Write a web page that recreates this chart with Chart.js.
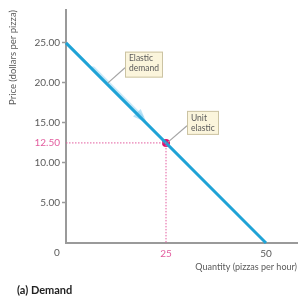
<!DOCTYPE html>
<html><head><meta charset="utf-8">
<script src="https://cdn.jsdelivr.net/npm/chart.js@4.4.0/dist/chart.umd.min.js"></script>
<style>html,body{margin:0;padding:0;background:#fff;}#wrap{width:301px;height:297px;}</style>
</head><body><div id="wrap"><canvas id="c" width="301" height="297"></canvas></div>
<script>
// Data
const demandQty = [0, 50];
const demandPrice = [25, 0];
const unitQty = [25];
const unitPrice = [12.5];
const yTickValues = [5, 10, 12.5, 15, 20, 25];
const xTickValues = [25, 50];
const guideQty = [0, 25, 25];
const guidePrice = [12.5, 12.5, 0];
const arrowQty = [6, 18];          // faint movement arrow along the curve
const elasticLabel = ['Elastic', 'demand'];
const elasticAnchor = [14.75, 23.9];   // box top-left (qty, price)
const elasticTarget = [10.5, 20];      // point on curve for leader
const unitLabel = ['Unit', 'elastic'];
const unitAnchor = [30.25, 16.5];
const unitTarget = [25.5, 12.6];

const BLUE = '#1fa3d6', PINK = '#e35d9f', MAG = '#e0106e', GREY = '#9a9a9a', TXT = '#5a5a5a';
const FONT = 'Lato, "Noto Sans", sans-serif';

function toPts(xs, ys){ return xs.map((x,i)=>({x:x, y:ys[i]})); }

const annot = {
  id: 'annot',
  beforeDatasetsDraw(chart){
    const {ctx, scales:{x, y}} = chart;
    const priceAt = q => 25 - q/2;
    const x0 = x.getPixelForValue(arrowQty[0]) + 3, y0 = y.getPixelForValue(priceAt(arrowQty[0])) + 2;
    const x1 = x.getPixelForValue(arrowQty[1]) + 3, y1 = y.getPixelForValue(priceAt(arrowQty[1])) + 2;
    ctx.save();
    ctx.strokeStyle = 'rgba(120,200,240,0.4)';
    ctx.lineWidth = 5; ctx.lineCap = 'round';
    ctx.beginPath(); ctx.moveTo(x0, y0); ctx.lineTo(x1, y1); ctx.stroke();
    const ang = Math.atan2(y1-y0, x1-x0);
    ctx.fillStyle = 'rgba(120,200,240,0.5)';
    ctx.beginPath();
    ctx.moveTo(x1 + 8*Math.cos(ang), y1 + 8*Math.sin(ang));
    ctx.lineTo(x1 + 8*Math.cos(ang+2.4), y1 + 8*Math.sin(ang+2.4));
    ctx.lineTo(x1 + 8*Math.cos(ang-2.4), y1 + 8*Math.sin(ang-2.4));
    ctx.closePath(); ctx.fill();
    ctx.restore();
  },
  afterDatasetsDraw(chart){
    const {ctx, scales:{x, y}} = chart;
    function box(lines, anchor, target, w, h){
      const bx = x.getPixelForValue(anchor[0]), by = y.getPixelForValue(anchor[1]);
      const tx = x.getPixelForValue(target[0]), ty = y.getPixelForValue(target[1]);
      ctx.save();
      ctx.strokeStyle = '#a5a5a5'; ctx.lineWidth = 1.2;
      ctx.beginPath(); ctx.moveTo(bx, by + h*0.62); ctx.lineTo(tx, ty); ctx.stroke();
      ctx.fillStyle = '#fbf5dc'; ctx.strokeStyle = '#cbc3a3'; ctx.lineWidth = 1;
      ctx.fillRect(bx, by, w, h); ctx.strokeRect(bx+0.5, by+0.5, w-1, h-1);
      ctx.fillStyle = TXT; ctx.font = '8.5px ' + FONT; ctx.textBaseline = 'middle'; ctx.textAlign = 'left';
      lines.forEach((t,i)=> ctx.fillText(t, bx + 4, by + 7 + i*10));
      ctx.restore();
    }
    box(elasticLabel, elasticAnchor, elasticTarget, 38, 26);
    box(unitLabel, unitAnchor, unitTarget, 32, 24);
    ctx.save();
    ctx.fillStyle = TXT; ctx.font = '10px ' + FONT; ctx.textAlign = 'center'; ctx.textBaseline = 'middle';
    ctx.fillText('0', x.getPixelForValue(0) - 9, y.getPixelForValue(0) + 10);
    ctx.fillStyle = '#222'; ctx.font = 'bold 11px ' + FONT; ctx.textAlign = 'left';
    ctx.fillText('(a) Demand', 17, 290);
    ctx.restore();
  }
};

new Chart(document.getElementById('c'), {
  type: 'scatter',
  data: {
    datasets: [
      { data: toPts(guideQty, guidePrice), showLine: true, borderColor: PINK, borderWidth: 1,
        borderDash: [1.5, 1.5], pointRadius: 0, fill: false },
      { data: toPts(demandQty, demandPrice), showLine: true, borderColor: BLUE, borderWidth: 3,
        pointRadius: 0, fill: false },
      { data: toPts(unitQty, unitPrice), pointRadius: 4, pointBackgroundColor: MAG,
        pointBorderColor: MAG, pointBorderWidth: 0, borderWidth: 0 }
    ]
  },
  options: {
    responsive: false, animation: false, clip: false,
    layout: { padding: { top: 10, right: 0, left: 0, bottom: 0 } },
    plugins: { legend: { display: false }, tooltip: { enabled: false } },
    scales: {
      x: {
        type: 'linear', min: 0, max: 57.75,
        afterBuildTicks: s => { s.ticks = xTickValues.map(v => ({value: v})); },
        afterFit: s => { s.height = 54; },
        border: { color: GREY, width: 2 },
        grid: { display: true, drawOnChartArea: false, drawTicks: false },
        ticks: { padding: 5, font: { family: FONT, size: 10 },
          color: c => c.tick && c.tick.value === 25 ? PINK : TXT,
          callback: v => String(v) },
        title: { display: true, text: 'Quantity (pizzas per hour)', align: 'end', color: TXT,
          font: { family: FONT, size: 9 }, padding: { top: 0, bottom: 25 } }
      },
      y: {
        type: 'linear', min: 0, max: 29.1,
        afterBuildTicks: s => { s.ticks = yTickValues.map(v => ({value: v})); },
        afterFit: s => { s.width = 66; },
        border: { color: GREY, width: 2 },
        grid: { display: true, drawOnChartArea: false, drawTicks: true, tickLength: 4, tickWidth: 1.5,
          tickColor: c => c.tick && c.tick.value === 12.5 ? 'rgba(0,0,0,0)' : GREY },
        ticks: { padding: 2, font: { family: FONT, size: 10 },
          color: c => c.tick && c.tick.value === 12.5 ? PINK : TXT,
          callback: v => Number(v).toFixed(2) },
        title: { display: true, text: 'Price (dollars per pizza)', align: 'end', color: TXT,
          font: { family: FONT, size: 9.5 }, padding: { top: 7, bottom: 0 } }
      }
    }
  },
  plugins: [annot]
});
</script></body></html>
